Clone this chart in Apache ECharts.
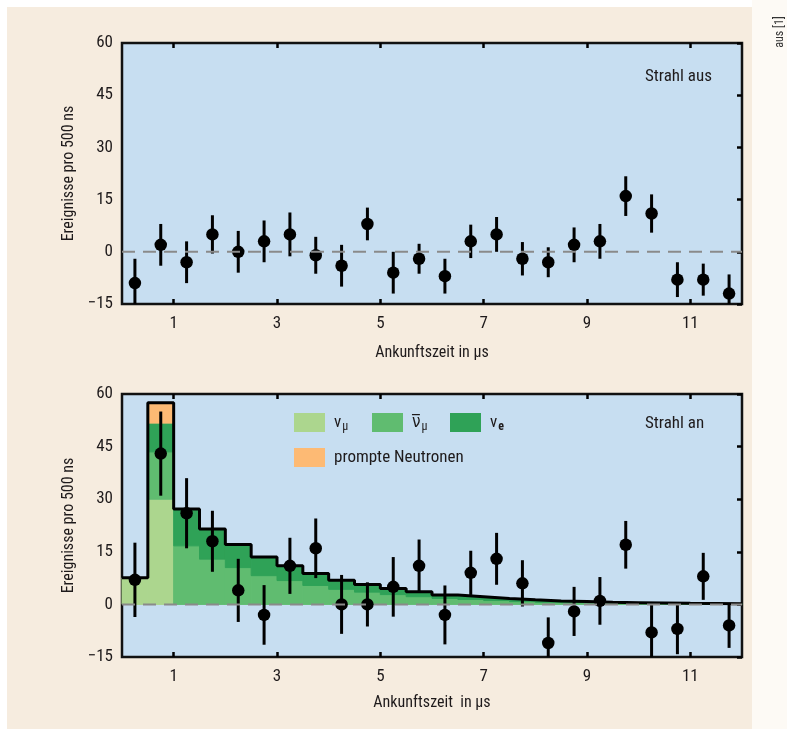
<!DOCTYPE html>
<html>
<head>
<meta charset="utf-8">
<script src="https://cdn.jsdelivr.net/npm/echarts@6.0.0/dist/echarts.min.js"></script>
<style>
html, body { margin: 0; padding: 0; background: #fff; }
#main { width: 787px; height: 729px; }
</style>
</head>
<body>
<div id="main"></div>
<script>
var myChart = echarts.init(document.getElementById('main'));

// Zeitbins (0.5 µs)
var binCenters = [0.25, 0.75, 1.25, 1.75, 2.25, 2.75, 3.25, 3.75, 4.25, 4.75, 5.25, 5.75,
    6.25, 6.75, 7.25, 7.75, 8.25, 8.75, 9.25, 9.75, 10.25, 10.75, 11.25, 11.75];
var binEdges = [0, 0.5, 1, 1.5, 2, 2.5, 3, 3.5, 4, 4.5, 5, 5.5, 6,
    6.5, 7, 7.5, 8, 8.5, 9, 9.5, 10, 10.5, 11, 11.5, 12];

// Strahl aus
var offValues = [-9, 2, -3, 5, 0, 3, 5, -1, -4, 8, -6, -2, -7, 3, 5, -2, -3, 2, 3, 16, 11, -8, -8, -12];
var offErrors = [7, 6, 6, 5.5, 6, 6, 6.3, 5.3, 6, 4.7, 6, 4.3, 5, 4.8, 5, 4.8, 4.3, 5, 5, 5.7, 5.5, 5, 4.6, 5.5];

// Strahl an
var onValues = [7, 43, 26, 18, 4, -3, 11, 16, 0, 0, 5, 11, -3, 9, 13, 6, -11, -2, 1, 17, -8, -7, 8, -6];
var onErrors = [10.6, 12, 10, 8.7, 9, 8.5, 8, 8.5, 8.4, 6.3, 8.5, 7.5, 8.4, 6.3, 7.4, 6.6, 7.3, 7, 6.8, 6.8, 8, 7.2, 6.7, 6.4];

// Erwartung (gestapelt)
var nuMu = [7.6, 30, 0, 0, 0, 0, 0, 0, 0, 0, 0, 0, 0, 0, 0, 0, 0, 0, 0, 0, 0, 0, 0, 0];
var nuMuBar = [0, 13.5, 16.7, 12.9, 10.5, 8.2, 6.8, 5.4, 4.3, 3.5, 2.8, 2.2,
    1.7, 1.4, 1.1, 0.8, 0.6, 0.5, 0.4, 0.3, 0.25, 0.2, 0.15, 0.12];
var nuE = [0, 8.2, 10.5, 8.6, 6.6, 5.3, 4.2, 3.4, 2.6, 2.2, 1.7, 1.4,
    1.0, 0.8, 0.6, 0.5, 0.4, 0.3, 0.2, 0.2, 0.15, 0.1, 0.1, 0.08];
var neutrons = [0, 5.8, 0, 0, 0, 0, 0, 0, 0, 0, 0, 0, 0, 0, 0, 0, 0, 0, 0, 0, 0, 0, 0, 0];

var xTicks = [1, 3, 5, 7, 9, 11];

var FONT = "'Liberation Sans Narrow', 'Roboto Condensed', 'DejaVu Sans Condensed', 'Open Sans Condensed', Roboto, sans-serif";
var TXT = '#1e1a1b';

var layers = [
    { name: 'nu_mu', values: nuMu, color: '#acd68e' },
    { name: 'nubar_mu', values: nuMuBar, color: '#60bc70' },
    { name: 'nu_e', values: nuE, color: '#2fa257' },
    { name: 'prompte Neutronen', values: neutrons, color: '#fdba74' }
];

function stackLayer(k) {
    var out = [];
    for (var i = 0; i < binCenters.length; i++) {
        var base = 0;
        for (var j = 0; j < k; j++) base += layers[j].values[i];
        var v = layers[k].values[i];
        if (v > 0) out.push([binEdges[i], binEdges[i + 1], base, base + v]);
    }
    return out;
}

function outline() {
    var out = [];
    var t = 0;
    for (var i = 0; i < binCenters.length; i++) {
        t = 0;
        for (var k = 0; k < layers.length; k++) t += layers[k].values[i];
        out.push([binEdges[i], t]);
    }
    out.push([binEdges[binEdges.length - 1], t]);
    return out;
}

function pts(values, errors) {
    var out = [];
    for (var i = 0; i < values.length; i++) out.push([binCenters[i], values[i], errors[i]]);
    return out;
}

function renderRect(params, api) {
    var p0 = api.coord([api.value(0), api.value(3)]);
    var p1 = api.coord([api.value(1), api.value(2)]);
    var c = api.visual('color');
    return {
        type: 'rect',
        shape: { x: p0[0], y: p0[1], width: p1[0] - p0[0], height: p1[1] - p0[1] },
        style: { fill: c, stroke: c, lineWidth: 1 }
    };
}

function renderErr(params, api) {
    var x = api.value(0), y = api.value(1), e = api.value(2);
    var a = api.coord([x, y + e]);
    var b = api.coord([x, y - e]);
    var cs = params.coordSys;
    var lo = cs.y, hi = cs.y + cs.height;
    return {
        type: 'line',
        shape: { x1: a[0], y1: Math.max(lo, a[1]), x2: b[0], y2: Math.min(hi, b[1]) },
        style: { stroke: '#000', lineWidth: 3 }
    };
}

function minus(v) { return v < 0 ? '\u2212' + Math.abs(v) : '' + v; }

var grids = [
    { left: 122, right: 45, top: 43, height: 261 },
    { left: 122, right: 45, top: 394, height: 263 }
];

var xAxes = [], yAxes = [];
grids.forEach(function (g, i) {
    xAxes.push({
        gridIndex: i, type: 'value', min: 0, max: 12, position: 'bottom',
        name: i === 0 ? 'Ankunftszeit in \u00b5s' : 'Ankunftszeit  in \u00b5s',
        nameLocation: 'middle', nameGap: i === 0 ? 41 : 38,
        nameTextStyle: { fontFamily: FONT, fontSize: 16, color: TXT },
        axisLine: { show: false, onZero: false },
        splitLine: { show: false },
        axisTick: { show: true, inside: true, length: 5, customValues: xTicks, lineStyle: { color: '#000', width: 2.5 } },
        axisLabel: { customValues: xTicks, margin: 11, fontFamily: FONT, fontSize: 17, color: TXT }
    });
    xAxes.push({
        gridIndex: i, type: 'value', min: 0, max: 12, position: 'top',
        axisLine: { show: false, onZero: false }, splitLine: { show: false }, axisLabel: { show: false },
        axisTick: { show: true, inside: true, length: 5, customValues: xTicks, lineStyle: { color: '#000', width: 2.5 } }
    });
    yAxes.push({
        gridIndex: i, type: 'value', min: -15, max: 60, interval: 15, position: 'left',
        name: 'Ereignisse pro 500 ns', nameLocation: 'middle', nameGap: 43,
        nameTextStyle: { fontFamily: FONT, fontSize: 16, color: TXT },
        axisLine: { show: false, onZero: false }, splitLine: { show: false }, axisTick: { show: false },
        axisLabel: { margin: 9, fontFamily: FONT, fontSize: 17, color: TXT, formatter: minus }
    });
    yAxes.push({
        gridIndex: i, type: 'value', min: -15, max: 60, interval: 15, position: 'right',
        axisLine: { show: false, onZero: false }, splitLine: { show: false }, axisLabel: { show: false },
        axisTick: { show: true, inside: true, length: 5, lineStyle: { color: '#000', width: 2.5 } }
    });
});

var series = [];
layers.forEach(function (l, k) {
    series.push({
        name: l.name, type: 'custom', xAxisIndex: 2, yAxisIndex: 2,
        renderItem: renderRect, itemStyle: { color: l.color },
        data: stackLayer(k)
    });
});
series.push({
    type: 'line', xAxisIndex: 2, yAxisIndex: 2, step: 'end', symbol: 'none',
    lineStyle: { color: '#000', width: 3 }, data: outline()
});
[0, 2].forEach(function (ax) {
    series.push({
        type: 'line', xAxisIndex: ax, yAxisIndex: ax, symbol: 'none', silent: true,
        lineStyle: { color: '#8a8a8a', width: 2, type: [13, 8] }, data: [[0, 0], [12, 0]]
    });
});
[[0, offValues, offErrors], [2, onValues, onErrors]].forEach(function (s) {
    series.push({
        type: 'custom', xAxisIndex: s[0], yAxisIndex: s[0], renderItem: renderErr,
        data: pts(s[1], s[2])
    });
    series.push({
        type: 'scatter', xAxisIndex: s[0], yAxisIndex: s[0], symbol: 'circle', symbolSize: 12.5,
        itemStyle: { color: '#000', opacity: 1 }, data: pts(s[1], s[2])
    });
});

var legendRich = {
    g: { fontFamily: FONT, fontSize: 17, color: TXT },
    s: { fontFamily: FONT, fontSize: 12, color: TXT, padding: [9, 0, 0, 1] },
    b: { fontFamily: FONT, fontSize: 12, fontWeight: 'bold', color: TXT, padding: [9, 0, 0, 1] }
};
var legendText = {
    'nu_mu': '{g|\u03bd}{s|\u00b5}',
    'nubar_mu': '{g|\u03bd\u0305}{s|\u00b5}',
    'nu_e': '{g|\u03bd}{b|e}',
    'prompte Neutronen': '{g|prompte Neutronen}'
};
var legendPos = [[294, 413], [372, 413], [450, 413], [294, 448]];
var legends = layers.map(function (l, k) {
    return {
        data: [l.name], left: legendPos[k][0], top: legendPos[k][1], padding: 0,
        icon: 'rect', itemWidth: 31, itemHeight: 19, itemGap: 0, selectedMode: false,
        formatter: function (n) { return legendText[n]; },
        textStyle: { rich: legendRich, padding: [0, 0, 0, 4] }
    };
});

option = {
    animation: false,
    backgroundColor: '#f6ecdf',
    grid: grids.map(function (g) {
        return Object.assign({ show: true, backgroundColor: '#c7def1', borderColor: '#111', borderWidth: 2.5 }, g);
    }),
    xAxis: xAxes,
    yAxis: yAxes,
    legend: legends,
    graphic: [
        { type: 'rect', shape: { x: 0, y: 0, width: 787, height: 7 }, style: { fill: '#fff' } },
        { type: 'rect', shape: { x: 0, y: 0, width: 7, height: 729 }, style: { fill: '#fff' } },
        { type: 'rect', shape: { x: 752, y: 0, width: 35, height: 729 }, style: { fill: '#fdfaf5' } },
        { type: 'text', x: 645, y: 77, style: { text: 'Strahl aus', fontFamily: FONT, fontSize: 17, fill: TXT, verticalAlign: 'middle' } },
        { type: 'text', x: 645, y: 424, style: { text: 'Strahl an', fontFamily: FONT, fontSize: 17, fill: TXT, verticalAlign: 'middle' } },
        { type: 'text', x: 780, y: 32, rotation: Math.PI / 2, style: { text: 'aus [1]', fontFamily: FONT, fontSize: 12, fill: '#333', align: 'center', verticalAlign: 'middle' } }
    ],
    series: series
};

myChart.setOption(option);
</script>
</body>
</html>
